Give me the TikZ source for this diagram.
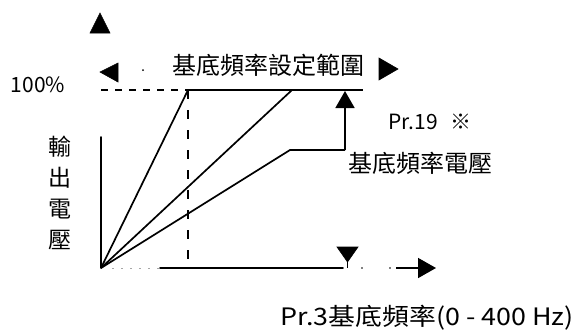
\documentclass[tikz,border=0pt]{standalone}
\usepackage{fontspec}
\setmainfont{Noto Sans CJK TC}
\usetikzlibrary{arrows.meta}
\tikzset{
  axisline/.style={line width=1.6pt, line cap=round},
  graphline/.style={line width=1.7pt},
  dashline/.style={line width=1.4pt, dash pattern=on 7pt off 7pt},
  vdashline/.style={line width=1.2pt, dash pattern=on 9pt off 11pt},
  faint/.style={line width=1pt, gray!70, dash pattern=on 2pt off 7pt},
  tri/.style={fill=black, draw=black, line width=0.6pt, line join=miter},
  lbl/.style={inner sep=0pt, font=\fontsize{24}{26}\selectfont},
  lbls/.style={inner sep=0pt, font=\fontsize{21}{23}\selectfont},
  bigtip/.style={-{Triangle[length=17pt,width=19pt]}}
}
\begin{document}
\begin{tikzpicture}[x=1pt,y=-1pt]
\useasboundingbox (0,0) rectangle (578,333);
% key points
\coordinate (O) at (101,268);
\coordinate (ytop) at (101,137);
\coordinate (h0) at (101,90);
\coordinate (f1) at (188,90);
\coordinate (f2) at (292,90);
\coordinate (hend) at (363,90);
\coordinate (bend) at (290,150);
\coordinate (corner) at (345,150);
\coordinate (atop) at (345,91);
\coordinate (xdot) at (112,268);
\coordinate (xsol) at (160,268);
\coordinate (xend) at (343,268);
\coordinate (f1b) at (188,268);
\coordinate (ar0) at (390,268);
\coordinate (ar1) at (436,268);
% axes
\draw[axisline] (O) -- (ytop);
\draw[faint] (xdot) -- (xsol);
\draw[axisline] (xsol) -- (xend);
\draw[tri] (90,33) -- (110,33) -- (100,13) -- cycle;
% 100% level
\draw[dashline] (h0) -- (f1);
\draw[graphline] (f1) -- (hend);
\draw[vdashline] (f1) -- (f1b);
% lines from origin
\draw[graphline] (O) -- (f1);
\draw[graphline] (O) -- (f2);
\draw[graphline] (O) -- (bend) -- (corner);
\draw[graphline, bigtip] (corner) -- (atop);
% range arrows
\draw[tri] (100,72) -- (118,63) -- (118,82) -- cycle;
\draw[tri] (398,69) -- (379,58) -- (379,80) -- cycle;
\fill (143,70) circle (1pt);
% base frequency marker
\draw[tri] (337,247) -- (358,247) -- (347.5,262) -- cycle;
\draw[line width=1.6pt] (347.5,260) -- (347.5,268);
\fill (362,268) circle (0.9pt);
\fill (390,268) circle (0.9pt);
\draw[line width=1.6pt, -{Triangle[length=18pt,width=20pt]}] (396,268) -- (ar1);
% labels
\node[lbl] (range) at (268,65) {基底頻率設定範圍};
\node[lbls] (pct) at (38,85) {100\%};
\node[lbls] (pr19) at (430,122) {Pr.19\hspace{0.6em}※};
\node[lbl] (bv) at (420,163) {基底頻率電壓};
\node[lbl, align=center, font=\fontsize{23}{31}\selectfont] (vout) at (60,193) {輸\\出\\電\\壓};
\node[lbl, anchor=east, xscale=1.12] (bf) at (574,318) {Pr.3基底頻率(0 - 400 Hz)};
\end{tikzpicture}
\end{document}
